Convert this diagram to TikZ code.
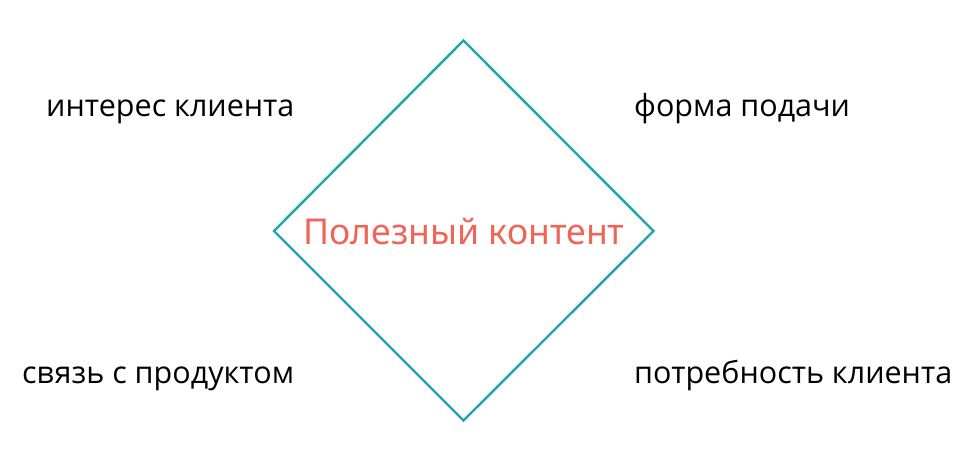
\documentclass[tikz,border=0pt]{standalone}
\usepackage{fontspec}
\setmainfont{Open Sans}
\newfontfamily\centerfont{Noto Sans}
\definecolor{teal1}{HTML}{1EA6AE}
\definecolor{salmon1}{HTML}{EF6558}
\tikzset{
  lbl/.style={anchor=base west, inner sep=0pt, font=\fontsize{30.5}{36}\selectfont, text=black},
  ctr/.style={inner sep=0pt, font=\centerfont\fontsize{35.6}{42}\selectfont, text=salmon1},
  dia/.style={draw=teal1, line width=2.4pt, line join=miter}
}
\begin{document}
\begin{tikzpicture}[x=1pt,y=1pt]
\useasboundingbox (0,0) rectangle (965,-458);
\coordinate (top) at (463.5,-40.5);
\coordinate (right) at (653.5,-231);
\coordinate (bottom) at (463.5,-420.5);
\coordinate (left) at (274,-231);
\draw[dia] (top) -- (right) -- (bottom) -- (left) -- cycle;
\node[ctr, anchor=base] (c) at (464,-244) {Полезный контент};
\node[lbl] (a) at (46,-116) {интерес клиента};
\node[lbl] (b) at (634,-116) {форма подачи};
\node[lbl] (d) at (22,-383) {связь с продуктом};
\node[lbl] (e) at (634,-383) {потребность клиента};
\end{tikzpicture}
\end{document}
